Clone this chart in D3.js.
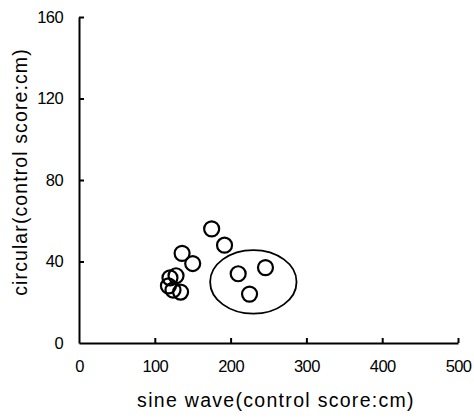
<!DOCTYPE html>
<html>
<head>
<meta charset="utf-8">
<script src="https://cdn.jsdelivr.net/npm/d3@7"></script>
<style>
  body { margin: 0; background: #fff; }
  text { font-family: "Liberation Sans", Arial, sans-serif; fill: #000; }
</style>
</head>
<body>
<div id="chart"></div>
<script>
// control scores (cm): x = sine wave, y = circular
const sineScores = [175, 192, 136, 150, 210, 246, 225, 120, 128, 118, 124, 134];
const circularScores = [56, 48, 44, 39, 34, 37, 24, 32, 33, 28, 26, 25];
const xTicks = [0, 100, 200, 300, 400, 500];
const yTicks = [0, 40, 80, 120, 160];
// ellipse round the group on the right: centre and half widths in data units
const ringCenter = [230, 30];
const ringHalf = [57, 15.6];

const width = 474;
const height = 418;
const margin = { top: 17, right: 16, bottom: 75, left: 79 };

const svg = d3.select("#chart")
    .append("svg")
    .attr("width", width)
    .attr("height", height);

const xScale = d3.scaleLinear()
    .domain([0, 500])
    .range([margin.left, width - margin.right]);

const yScale = d3.scaleLinear()
    .domain([0, 160])
    .range([height - margin.bottom, margin.top]);

// x-axis, ticks point inward
const xAxis = svg.append("g")
    .attr("transform", `translate(0,${height - margin.bottom})`)
    .call(d3.axisBottom(xScale).tickValues(xTicks).tickSizeInner(-5).tickSizeOuter(0).tickPadding(17));

// y-axis
const yAxis = svg.append("g")
    .attr("transform", `translate(${margin.left},0)`)
    .call(d3.axisLeft(yScale).tickValues(yTicks).tickSizeInner(-5).tickSizeOuter(0).tickPadding(16));

[xAxis, yAxis].forEach(ax => {
    ax.select(".domain").attr("stroke", "#000").attr("stroke-width", 2);
    ax.selectAll(".tick line").attr("stroke", "#000").attr("stroke-width", 2);
    ax.selectAll(".tick text")
        .attr("font-size", "16.5px")
        .attr("letter-spacing", "-0.6px")
        .attr("font-family", "Liberation Sans, Arial, sans-serif");
});
yAxis.selectAll(".tick").filter(d => d === 0).select("line").remove();
xAxis.selectAll(".tick").filter(d => d === 0).select("line").remove();

// axis titles
svg.append("text")
    .attr("x", 276)
    .attr("y", 407)
    .attr("text-anchor", "middle")
    .attr("font-size", "19.5px")
    .attr("letter-spacing", "1.3px")
    .text("sine wave(control score:cm)");

svg.append("text")
    .attr("transform", `translate(27,172) rotate(-90)`)
    .attr("text-anchor", "middle")
    .attr("font-size", "19.5px")
    .attr("letter-spacing", "1.1px")
    .text("circular(control score:cm)");

// ellipse
svg.append("ellipse")
    .attr("cx", xScale(ringCenter[0]))
    .attr("cy", yScale(ringCenter[1]))
    .attr("rx", xScale(ringHalf[0]) - xScale(0))
    .attr("ry", yScale(0) - yScale(ringHalf[1]))
    .attr("fill", "none")
    .attr("stroke", "#000")
    .attr("stroke-width", 1.8);

// open circles
const points = sineScores.map((s, i) => ({ x: s, y: circularScores[i] }));
svg.selectAll("circle.pt")
    .data(points)
    .enter()
    .append("circle")
    .attr("class", "pt")
    .attr("cx", d => xScale(d.x))
    .attr("cy", d => yScale(d.y))
    .attr("r", 7.5)
    .attr("fill", "none")
    .attr("stroke", "#000")
    .attr("stroke-width", 2.2);
</script>
</body>
</html>
